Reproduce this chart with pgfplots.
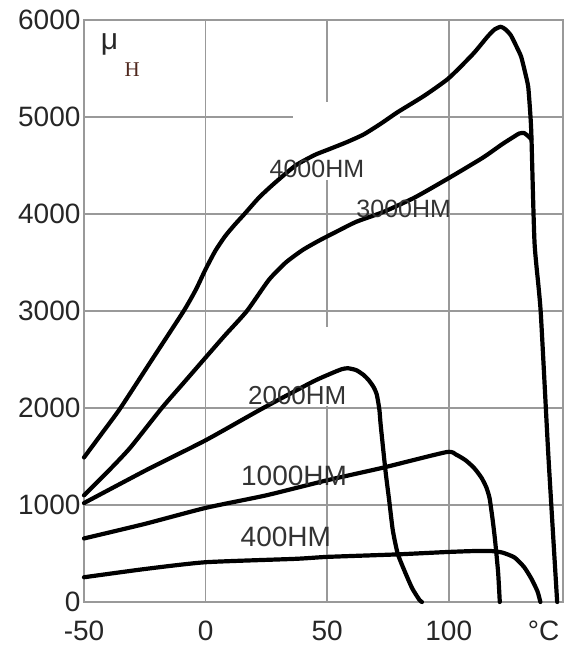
\documentclass[border=0pt]{standalone}
\usepackage{fontspec}
\setmainfont{Liberation Sans}
\newfontfamily\serifH{Liberation Serif}
\usepackage{pgfplots}
\pgfplotsset{compat=1.18}
\usepackage{pgfplotstable}

\pgfplotstableread{
x y
-50 1490
-42 1760
-35 2000
-22 2500
-9 3000
-4 3220
0 3430
4 3620
8 3770
12 3890
16 4000
22 4170
28 4310
37 4500
45 4610
50 4660
58 4740
65 4820
72 4930
79 5050
90 5220
100 5400
110 5650
116 5830
119 5905
121.5 5930
123.5 5900
125.6 5840
128 5720
129.8 5620
131.5 5450
132.7 5310
133.5 5050
134 4810
135.3 3700
137.8 3000
141 1500
144.6 0
}\ferrA

\pgfplotstableread{
x y
-50 1100
-40 1350
-31 1590
-18 2000
-9 2260
0 2520
8 2750
17 3000
26 3320
33 3500
40 3630
47 3730
54 3820
62 3920
73 4020
86 4170
100 4370
114 4580
122 4720
127 4800
129 4830
131 4835
132.8 4800
134 4770
}\ferrB

\pgfplotstableread{
x y
-50 1020
-24 1365
0 1667
23 1990
44 2270
52 2360
56 2400
58.5 2410
62 2390
65 2340
67 2290
69 2220
70.4 2140
71.5 1980
72 1830
74 1350
75.5 1050
77 740
79 500
82 310
85 140
88 20
89 0
}\ferrC

\pgfplotstableread{
x y
-50 655
-25 805
0 970
25 1100
50 1255
73 1385
99 1545
103 1520
107 1460
110.5 1380
113.5 1280
115.5 1180
116.8 1070
118 860
119 650
120.3 310
121 0
}\ferrD

\pgfplotstableread{
x y
-50 255
-25 340
0 410
37 445
50 465
78 490
99 515
110 525
117.6 525
122 510
127 460
131 360
134 240
136.5 110
137.7 0
}\ferrE

\begin{document}
\begin{tikzpicture}
\useasboundingbox (-84pt,-45pt) rectangle (486pt,602pt);
\begin{axis}[
  at={(0,0)}, anchor=south west,
  scale only axis, width=479pt, height=582pt,
  xmin=-50, xmax=147, ymin=0, ymax=6000,
  xtick={-50,0,50,100}, ytick={0,1000,...,6000},
  extra x ticks={139}, extra x tick labels={°C},
  extra x tick style={grid=none},
  grid=major,
  major grid style={draw=black!40, line width=1.6pt},
  axis line style={draw=black!40, line width=1.6pt},
  major tick length=0pt,
  tick label style={font=\fontsize{28}{30}\selectfont, text=black!85},
  /pgf/number format/assume math mode=true,
  /pgf/number format/1000 sep={},
  scaled y ticks=false,
  xticklabel style={yshift=-15pt},
  clip=false,
]
\fill[white] (axis cs:36,4350) rectangle (axis cs:80,5150);
\fill[white] (axis cs:30,2020) rectangle (axis cs:62,2840);

\addplot[black, line width=4.2pt, line join=round, line cap=round, smooth, tension=0.35] table[x=x,y=y] {\ferrA};
\addplot[black, line width=4.2pt, line join=round, line cap=round, smooth, tension=0.35] table[x=x,y=y] {\ferrB};
\addplot[black, line width=4.2pt, line join=round, line cap=round, smooth, tension=0.35] table[x=x,y=y] {\ferrC};
\addplot[black, line width=4.2pt, line join=round, line cap=round, smooth, tension=0.35] table[x=x,y=y] {\ferrD};
\addplot[black, line width=4.2pt, line join=round, line cap=round, smooth, tension=0.35] table[x=x,y=y] {\ferrE};

\node[font=\fontsize{25}{27}\selectfont, text=black!80] at (axis cs:45.8,4470) {4000HM};
\node[font=\fontsize{25}{27}\selectfont, text=black!80] at (axis cs:81.5,4050) {3000HM};
\node[font=\fontsize{26}{28}\selectfont, text=black!80] at (axis cs:37.7,2125) {2000HM};
\node[font=\fontsize{28}{30}\selectfont, text=black!80] at (axis cs:36.4,1300) {1000HM};
\node[font=\fontsize{28}{30}\selectfont, text=black!80] at (axis cs:33,674) {400HM};

\node[font=\fontsize{30}{32}\selectfont, text=black!85] at (axis cs:-39.5,5753) {μ};
\node[font=\serifH\fontsize{21}{23}\selectfont, text={rgb,255:red,80;green,40;blue,30}] at (axis cs:-30.2,5485) {H};
\end{axis}
\end{tikzpicture}
\end{document}
